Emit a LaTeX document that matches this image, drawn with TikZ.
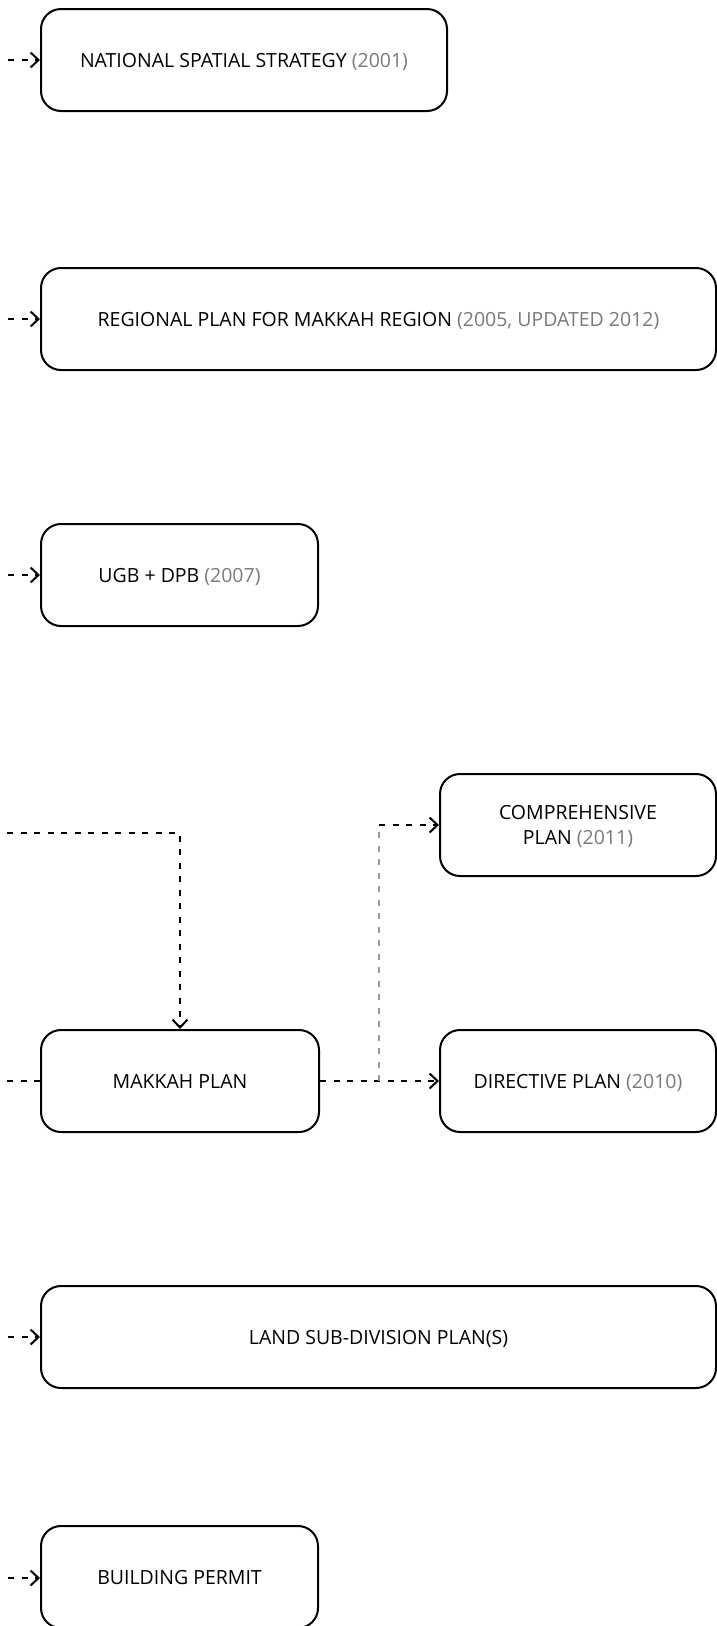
\documentclass[tikz,border=0pt]{standalone}
\usepackage{fontspec}
\setmainfont{Open Sans}
\usetikzlibrary{arrows.meta,calc}
\definecolor{yeargrey}{HTML}{7A7A7A}
\definecolor{linkgrey}{HTML}{9A9A9A}
\tikzset{
  plan/.style={draw=black, line width=2pt, rounded corners=20pt, fill=white,
    minimum height=102pt, align=center, inner sep=0pt, text depth=0pt,
    font=\fontsize{19.5}{25}\selectfont},
  link/.style={draw=black, line width=1.6pt, dash pattern=on 6pt off 7.5pt},
  greylink/.style={draw=linkgrey, line width=1.2pt, dash pattern=on 6pt off 7.5pt},
  tip/.style={-{Straight Barb[length=8pt,width=15pt,line width=2pt]}},
}
\newcommand{\yr}[1]{\textcolor{yeargrey}{#1}}
\begin{document}
\begin{tikzpicture}[x=1pt,y=-1pt]
\useasboundingbox (0,0) rectangle (717,1626);
\clip (0,0) rectangle (717,1626);
\fill[white] (0,0) rectangle (717,1626);

\node[plan, minimum width=406pt] (nss) at (244,60) {NATIONAL SPATIAL STRATEGY \yr{(2001)}};
\node[plan, minimum width=675pt] (reg) at (378.5,319) {REGIONAL PLAN FOR MAKKAH REGION \yr{(2005, UPDATED 2012)}};
\node[plan, minimum width=277pt] (ugb) at (179.5,575) {UGB + DPB \yr{(2007)}};
\node[plan, minimum width=276pt] (comp) at (578,825) {COMPREHENSIVE\\PLAN \yr{(2011)}};
\node[plan, minimum width=278pt] (mak) at (180,1081) {MAKKAH PLAN};
\node[plan, minimum width=276pt] (dir) at (578,1081) {DIRECTIVE PLAN \yr{(2010)}};
\node[plan, minimum width=675pt] (land) at (378.5,1337) {LAND SUB-DIVISION PLAN(S)};
\node[plan, minimum width=277pt] (bp) at (179.5,1577) {BUILDING PERMIT};

\coordinate (s1) at (8,60);
\coordinate (s2) at (8,319);
\coordinate (s3) at (8,575);
\coordinate (s4) at (7,833);
\coordinate (s5) at (7,1081);
\coordinate (s6) at (8,1337);
\coordinate (s7) at (8,1578);
\coordinate (j1) at (379,1081);
\coordinate (j2) at (379,825);

\draw[link, tip] (s1) -- (nss.west);
\draw[link, tip] (s2) -- (reg.west);
\draw[link, tip] (s3) -- (ugb.west);
\draw[link, tip] (s4) -| (mak.north);
\draw[link] (s5) -- (mak.west);
\draw[link, tip] (mak.east) -- (dir.west);
\draw[greylink] (j1) -- (j2);
\draw[link, tip] (j2) -- (comp.west);
\draw[link, tip] (s6) -- (land.west);
\draw[link, line width=1.2pt, tip] (s7) -- (bp.west |- s7);
\end{tikzpicture}
\end{document}
